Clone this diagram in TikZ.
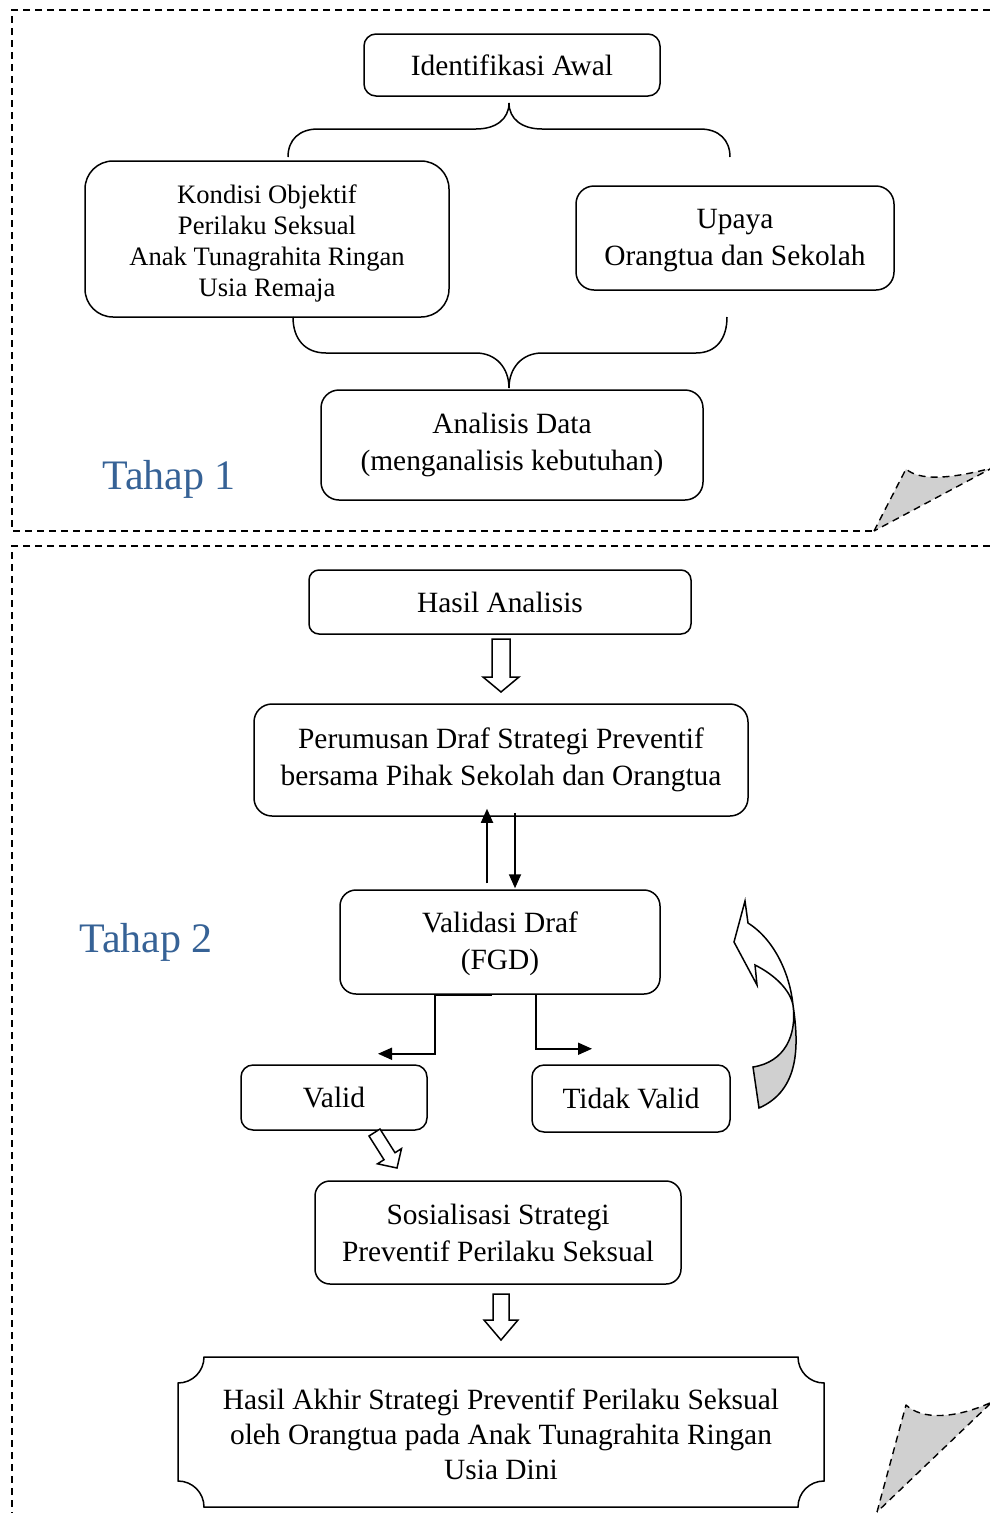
\documentclass[tikz,border=0pt]{standalone}
\usepackage{fontspec}
\setmainfont{Liberation Serif}
\usetikzlibrary{arrows.meta}
\definecolor{tahapblue}{RGB}{54,98,150}
\definecolor{foldgray}{RGB}{208,208,208}
\newcommand\fA{\fontsize{29.4}{37}\selectfont}
\newcommand\fB{\fontsize{26.6}{31}\selectfont}
\newcommand\fC{\fontsize{29.4}{35}\selectfont}
\newcommand\fT{\fontsize{42}{48}\selectfont}
\tikzset{
  box/.style={draw, line width=1.5pt, align=center, inner sep=0pt, font=\fA},
  panel/.style={line width=1.4pt, dash pattern=on 7pt off 5pt},
  fold/.style={panel, fill=foldgray, line join=round},
  conn/.style={line width=1.5pt},
  arr/.style={line width=1.8pt, -{Triangle[length=14pt,width=12pt]}},
  hollow/.style={line width=1.5pt, fill=white, line join=miter},
  tahap/.style={font=\fT, text=tahapblue, inner sep=0pt},
  txt/.style={align=center, inner sep=0pt},
}
\begin{document}
\begin{tikzpicture}[x=1pt,y=-1pt]
\useasboundingbox (0,0) rectangle (990,1513);
\fill[white] (0,0) rectangle (990,1513);

% panels
\draw[panel] (990,10) -- (12,10) -- (12,531) -- (874,531);
\draw[panel] (990,546) -- (12,546) -- (12,1513);
\draw[fold] (874,531) -- (906,469) .. controls (920,481) and (950,479) .. (992,468) -- cycle;
\draw[fold] (877,1512) -- (906,1405) .. controls (922,1420) and (955,1419) .. (992,1402) -- cycle;

% Tahap 1
\node[box, rounded corners=12pt, minimum width=296pt, minimum height=62pt] (ident) at (512,65) {Identifikasi Awal};
\node[box, rounded corners=28pt, minimum width=364pt, minimum height=156pt] (kondisi) at (267,239) {};
\node[txt, font=\fB] (kondisitxt) at (267,243)
  {Kondisi Objektif\\Perilaku Seksual\\Anak Tunagrahita Ringan\\Usia Remaja};
\node[box, rounded corners=18pt, minimum width=318pt, minimum height=104pt] (upaya) at (735,238) {};
\node[txt, font=\fA] (upayatxt) at (735,241) {Upaya\\Orangtua dan Sekolah};
\node[box, rounded corners=18pt, minimum width=382pt, minimum height=110pt] (analisis) at (512,445)
  {Analisis Data\\(menganalisis kebutuhan)};
\node[tahap] (tahap1) at (169,479) {Tahap 1};

% braces
\draw[conn] (288,157) .. controls (288,140) and (299,129) .. (318,129) -- (476,129)
  .. controls (496,129) and (509,119) .. (509,103)
  .. controls (509,119) and (522,129) .. (542,129) -- (700,129)
  .. controls (719,129) and (730,140) .. (730,157);
\draw[conn] (293,317) .. controls (293,339) and (305,353) .. (326,353) -- (476,353)
  .. controls (496,353) and (509,368) .. (509,388)
  .. controls (509,368) and (522,353) .. (542,353) -- (696,353)
  .. controls (716,353) and (727,339) .. (727,317);

% Tahap 2
\node[box, rounded corners=10pt, minimum width=382pt, minimum height=64pt] (hasil) at (500,602) {Hasil Analisis};
\node[box, rounded corners=18pt, minimum width=494pt, minimum height=112pt] (rumus) at (501,760)
  {Perumusan Draf Strategi Preventif\\bersama Pihak Sekolah dan Orangtua};
\node[box, rounded corners=16pt, minimum width=320pt, minimum height=104pt] (validasi) at (500,942) {};
\node[txt, font=\fA] (validasitxt) at (500,944) {Validasi Draf\\(FGD)};
\node[box, rounded corners=12pt, minimum width=186pt, minimum height=65pt] (valid) at (334,1097.5) {Valid};
\node[box, rounded corners=12pt, minimum width=198pt, minimum height=67pt] (tidak) at (631,1098.5) {Tidak Valid};
\node[box, rounded corners=15pt, minimum width=366pt, minimum height=103pt] (sosial) at (498,1232.5)
  {Sosialisasi Strategi\\Preventif Perilaku Seksual};
\draw[line width=1.5pt, line join=miter] (204,1357) -- (798,1357) .. controls (798,1371.4) and (809.6,1383) .. (824,1383)
  -- (824,1481) .. controls (809.6,1481) and (798,1492.6) .. (798,1507)
  -- (204,1507) .. controls (204,1492.6) and (192.4,1481) .. (178,1481)
  -- (178,1383) .. controls (192.4,1383) and (204,1371.4) .. (204,1357) -- cycle;
\node[txt, font=\fC] (akhir) at (501,1434)
  {Hasil Akhir Strategi Preventif Perilaku Seksual\\oleh Orangtua pada Anak Tunagrahita Ringan\\Usia Dini};
\node[tahap] (tahap2) at (146,942) {Tahap 2};

% hollow arrows
\draw[hollow] (492,639) -- (510,639) -- (510,677) -- (519,677) -- (501,692) -- (483,677) -- (492,677) -- cycle;
\draw[hollow] (493,1294) -- (509,1294) -- (509,1320) -- (518,1320) -- (501,1340) -- (484,1320) -- (493,1320) -- cycle;
\draw[hollow] (380,1129) -- (395,1152.7) -- (401.5,1148.6) -- (397,1168) -- (377.5,1163.8) -- (384,1159.7) -- (369,1136) -- cycle;

% connectors between draft and validation
\draw[arr] ([xshift=-13pt,yshift=6pt]validasi.north) -- ([xshift=-14pt,yshift=8pt]rumus.south);
\draw[arr] ([xshift=14pt,yshift=4pt]rumus.south) -- ([xshift=15pt,yshift=1pt]validasi.north);
\draw[arr] ([xshift=-8pt]validasi.south) -- ([xshift=-65pt]validasi.south)
  -- ++(0,59) coordinate (lbend) -- ++(-57,0) coordinate (ltip);
\draw[arr] ([xshift=36pt]validasi.south) -- ++(0,54) -- ++(56,0) coordinate (rtip);

% curved return arrow
\fill[foldgray] (793,1005) .. controls (799,1045) and (800,1090) .. (759,1108) -- (753,1067)
  .. controls (785,1062) and (797,1035) .. (793,1005) -- cycle;
\draw[line width=1.5pt, line join=miter] (748,923) -- (745,901) -- (734,942) -- (757,985) -- (755,965)
  .. controls (775,975) and (790,990) .. (793,1005)
  .. controls (797,1035) and (785,1062) .. (753,1067) -- (759,1108)
  .. controls (800,1090) and (799,1045) .. (793,1005)
  .. controls (790,975) and (775,940) .. (748,923) -- cycle;
\end{tikzpicture}
\end{document}
